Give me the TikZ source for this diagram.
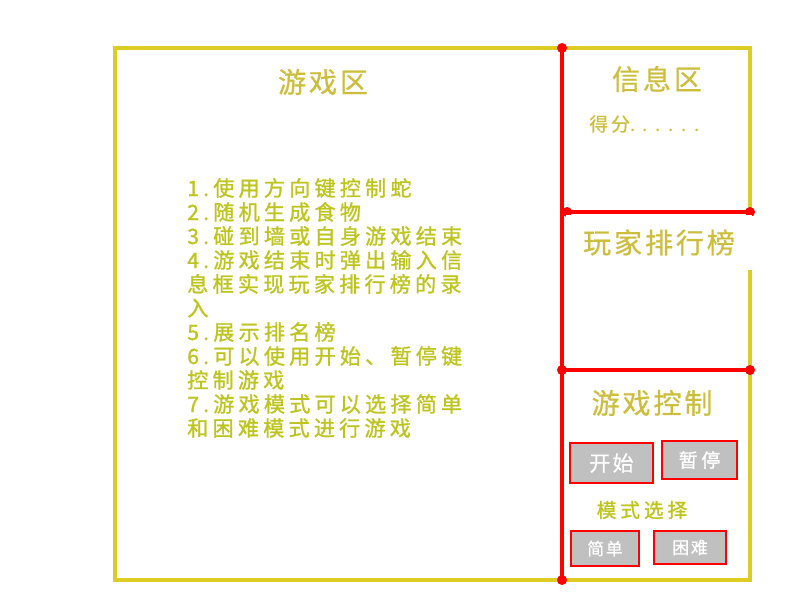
\documentclass[tikz,border=0pt]{standalone}
\usepackage{fontspec}
\usepackage{tikz}
\newfontfamily\cjktitle[LetterSpace=10,FakeBold=0.6]{Noto Sans CJK SC}
\newfontfamily\cjklist[LetterSpace=20,FakeBold=1.2]{Noto Sans CJK SC}
\newfontfamily\cjksmall[LetterSpace=15,FakeBold=0.6]{Noto Sans CJK SC}
\newfontfamily\cjkdots[LetterSpace=40]{Noto Sans CJK SC}
\definecolor{boxyellow}{RGB}{221,204,34}
\definecolor{titleyellow}{RGB}{204,190,60}
\definecolor{listyellow}{RGB}{190,196,30}
\definecolor{btngray}{RGB}{192,192,192}
\definecolor{linered}{RGB}{255,0,0}

\begin{document}
\begin{tikzpicture}[x=0.025cm,y=-0.025cm,
  titletext/.style={text=titleyellow,inner sep=0pt,font=\cjktitle\fontsize{20}{24}\selectfont},
  listtext/.style={text=listyellow,inner sep=0pt,font=\cjklist\fontsize{15}{17}\selectfont},
  btn/.style={draw=linered,line width=2.1pt,fill=btngray,text=white,inner sep=0pt},
  redline/.style={draw=linered,line width=2.3pt},
  reddot/.style={fill=linered}]
\useasboundingbox (0,0) rectangle (800,600);
% outer frame
\draw[boxyellow,line width=2.5pt] (115,48) rectangle (750,580);
% corners of the red dividers
\coordinate (top) at (562,48);
\coordinate (bot) at (562,580);
\coordinate (infoL) at (567,212);
\coordinate (infoR) at (750,212);
\coordinate (ctrlL) at (562,370);
\coordinate (ctrlR) at (750,370);
\draw[redline] (top) -- (bot);
\draw[redline] (infoL) -- (infoR);
\draw[redline] (ctrlL) -- (ctrlR);
\foreach \p in {top,bot,infoL,infoR,ctrlL,ctrlR}
  \fill[reddot] (\p) circle (0.125cm);
% play area
\node[titletext] (game) at (323,82) {游戏区};
\foreach \t [count=\i] in {1.使用方向键控制蛇,2.随机生成食物,3.碰到墙或自身游戏结束,
  4.游戏结束时弹出输入信,息框实现玩家排行榜的录,入,5.展示排名榜,
  6.可以使用开始、暂停键,控制游戏,7.游戏模式可以选择简单,和困难模式进行游戏}
  \node[listtext,anchor=base west] (rule\i) at (187,172+24*\i) {\t};
% info area
\node[titletext] (info) at (657,79) {信息区};
\node[text=titleyellow,inner sep=0pt,anchor=west,font=\cjksmall\fontsize{13.5}{16}\selectfont]
  (score) at (589,124) {得分{\cjkdots......}};
% ranking
\node[titletext,fill=white,minimum width=4.65cm,minimum height=1.375cm] (rank) at (659,242.5) {玩家排行榜};
% control area
\node[titletext] (ctrl) at (652,403) {游戏控制};
\node[text=listyellow,inner sep=0pt,font=\cjklist\fontsize{14}{16}\selectfont] (mode) at (642,510) {模式选择};
\node[btn,minimum width=2.075cm,minimum height=1cm,font=\cjktitle\fontsize{15}{17}\selectfont]
  (start) at (611.5,463) {开始};
\node[btn,minimum width=1.875cm,minimum height=0.95cm,font=\cjklist\fontsize{13.5}{16}\selectfont]
  (pause) at (699.5,460) {暂停};
\node[btn,minimum width=1.7cm,minimum height=0.875cm,font=\cjktitle\fontsize{12}{14}\selectfont]
  (easy) at (605,548.5) {简单};
\node[btn,minimum width=1.8cm,minimum height=0.825cm,font=\cjktitle\fontsize{12}{14}\selectfont]
  (hard) at (690,547.5) {困难};
\end{tikzpicture}
\end{document}
